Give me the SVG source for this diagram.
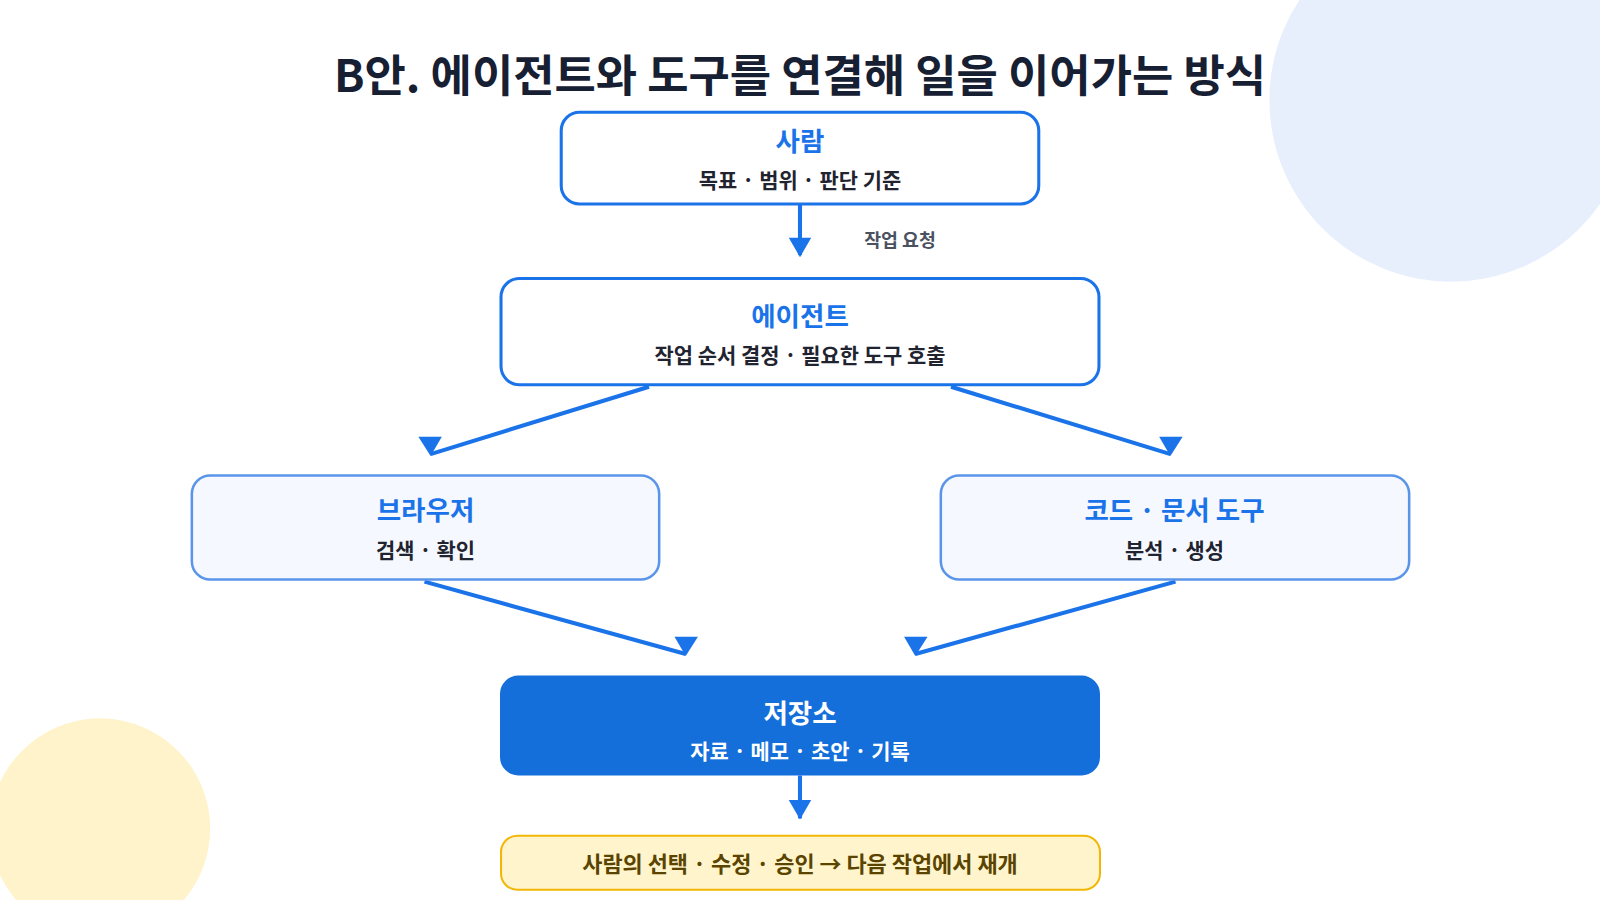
<svg xmlns="http://www.w3.org/2000/svg" width="1600" height="900" viewBox="0 0 1600 900">
<style>
text{font-family:"Noto Sans CJK KR","Noto Sans",sans-serif;font-weight:700;text-anchor:middle}
.t{fill:#1a73e8;font-size:26px}
.s{fill:#1f2430;font-size:20.5px}
.box{fill:#fff;stroke:#1a73e8;stroke-width:3}
.lt{fill:#f5f9ff;stroke:#5b95ea;stroke-width:2.5}
.ln{stroke:#1a73e8;stroke-width:4;fill:none}
.hd{fill:#1a73e8}
</style>
<rect width="1600" height="900" fill="#fff"/>
<g transform="scale(1.0204)">
<circle cx="1422" cy="98" r="178" fill="#e8effc"/>
<circle cx="98" cy="812" r="108" fill="#fff3cc"/>
<text x="784" y="90" style="font-size:44px;fill:#172033">B안. 에이전트와 도구를 연결해 일을 이어가는 방식</text>
<g id="connectors">
<line class="ln" x1="784" y1="200" x2="784" y2="250"/><polygon class="hd" points="773,233 795,233 784,252"/>
<text x="882" y="242" style="font-size:18px;fill:#4a5160">작업 요청</text>
<line class="ln" x1="636" y1="379" x2="422" y2="445"/><polygon class="hd" points="410,428 433,428 422,447"/>
<line class="ln" x1="932" y1="379" x2="1147" y2="445"/><polygon class="hd" points="1136,428 1159,428 1147,447"/>
<line class="ln" x1="416" y1="570" x2="672" y2="641"/><polygon class="hd" points="661,624 684,624 672,643"/>
<line class="ln" x1="1152" y1="570" x2="897" y2="641"/><polygon class="hd" points="886,624 909,624 897,643"/>
<line class="ln" x1="784" y1="760" x2="784" y2="802"/><polygon class="hd" points="773,784 795,784 784,803"/>
</g>
<g id="person"><rect class="box" x="550" y="110" width="468" height="90" rx="18"/>
<text class="t" x="784" y="148">사람</text><text class="s" x="784" y="184">목표 · 범위 · 판단 기준</text></g>
<g id="agent"><rect class="box" x="491" y="273" width="586" height="104" rx="18"/>
<text class="t" x="784" y="319">에이전트</text><text class="s" x="784" y="356">작업 순서 결정 · 필요한 도구 호출</text></g>
<g id="browser"><rect class="lt" x="188" y="466" width="458" height="102" rx="18"/>
<text class="t" x="417" y="510">브라우저</text><text class="s" x="417" y="547">검색 · 확인</text></g>
<g id="tools"><rect class="lt" x="922" y="466" width="459" height="102" rx="18"/>
<text class="t" x="1151" y="510">코드 · 문서 도구</text><text class="s" x="1151" y="547">분석 · 생성</text></g>
<g id="storage"><rect x="490" y="662" width="588" height="98" rx="18" fill="#146fdb"/>
<text x="784" y="709" style="font-size:26px;fill:#fff">저장소</text><text x="784" y="744" style="font-size:20.5px;fill:#fff">자료 · 메모 · 초안 · 기록</text></g>
<g id="resume"><rect x="491" y="819" width="587" height="53" rx="16" fill="#fff4cc" stroke="#f2b705" stroke-width="2"/>
<text x="784" y="855" style="font-size:21.5px;fill:#5a4400">사람의 선택 · 수정 · 승인 → 다음 작업에서 재개</text></g>
</g>
</svg>
